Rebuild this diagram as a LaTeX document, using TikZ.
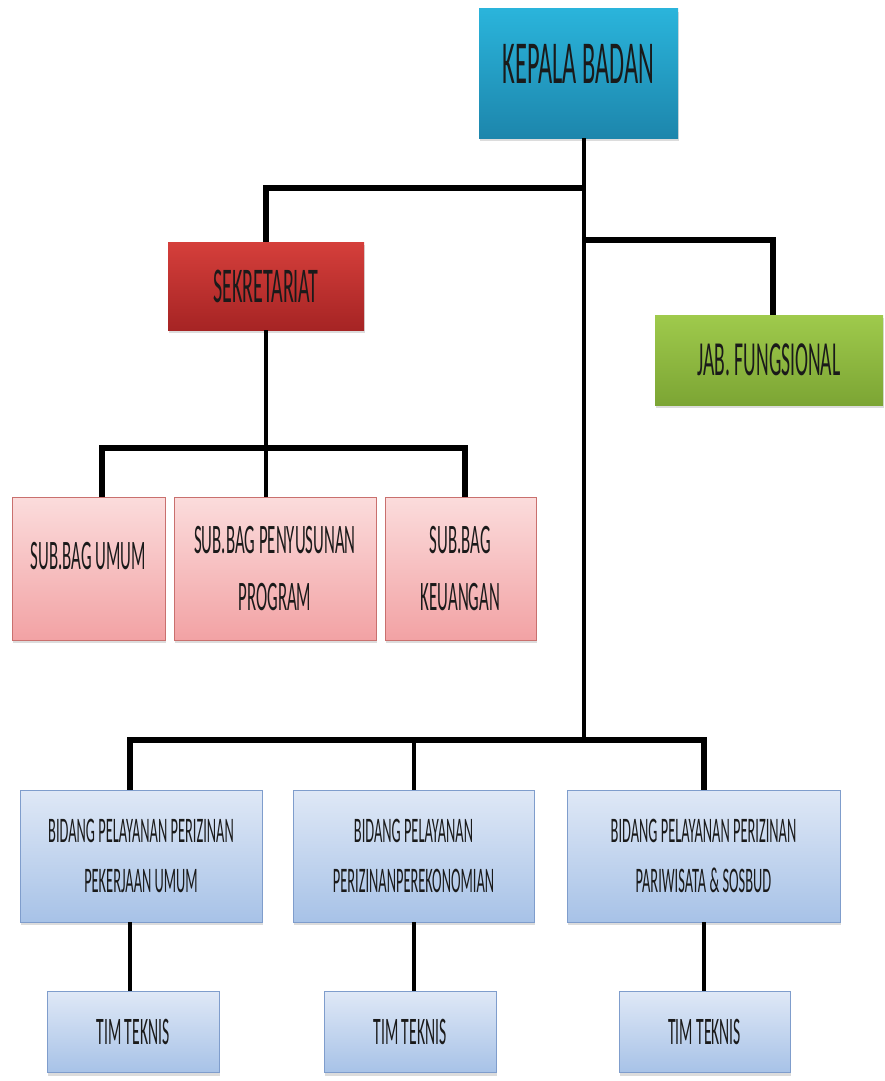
\documentclass[tikz,border=0pt]{standalone}
\usepackage{fontspec}
\setmainfont[FakeStretch=0.4]{Carlito}
\usetikzlibrary{shadows}

\definecolor{kepalaTop}{HTML}{2AB4DB}
\definecolor{kepalaBot}{HTML}{1D86AC}
\definecolor{sekreTop}{HTML}{D53F3B}
\definecolor{sekreBot}{HTML}{A62424}
\definecolor{jabTop}{HTML}{9FCA4C}
\definecolor{jabBot}{HTML}{7CA534}
\definecolor{subTop}{HTML}{FBDCDC}
\definecolor{subBot}{HTML}{F2A2A4}
\definecolor{subLine}{HTML}{C9706E}
\definecolor{bidTop}{HTML}{DFE8F6}
\definecolor{bidBot}{HTML}{A7C2E7}
\definecolor{bidLine}{HTML}{7F9DCC}
\definecolor{txt}{HTML}{1A1A1A}

\begin{document}
\begin{tikzpicture}[x=1pt,y=-1pt]
\tikzstyle{box} = [inner sep=0pt, align=center, text=txt,
  drop shadow={shadow xshift=1pt, shadow yshift=-3pt, fill=gray!55}]
\tikzstyle{conn} = [line width=4pt]
\tikzstyle{bar} = [line width=6pt]

\useasboundingbox (0,0) rectangle (884,1081);

% nodes
\node (kepala) [box, top color=kepalaTop, bottom color=kepalaBot,
  minimum width=199pt, minimum height=129pt,
  font=\fontsize{61}{70}\selectfont] at (578.5,73.5) {\raisebox{20pt}{KEPALA BADAN}};
\node (sekre) [box, top color=sekreTop, bottom color=sekreBot,
  minimum width=196pt, minimum height=88pt,
  font=\fontsize{50}{58}\selectfont] at (266,286) {SEKRETARIAT};
\node (jab) [box, top color=jabTop, bottom color=jabBot,
  minimum width=228pt, minimum height=90pt,
  font=\fontsize{49}{58}\selectfont] at (769,360) {JAB. FUNGSIONAL};

\node (umum) [box, draw=subLine, top color=subTop, bottom color=subBot,
  minimum width=153pt, minimum height=143pt,
  font=\fontsize{42}{57}\selectfont] at (88.5,568.5) {\raisebox{26pt}{SUB.BAG UMUM}};
\node (peny) [box, draw=subLine, top color=subTop, bottom color=subBot,
  minimum width=202pt, minimum height=143pt,
  font=\fontsize{42}{57}\selectfont] at (275,568.5) {SUB.BAG PENYUSUNAN\\PROGRAM};
\node (keu) [box, draw=subLine, top color=subTop, bottom color=subBot,
  minimum width=151pt, minimum height=143pt,
  font=\fontsize{42}{57}\selectfont] at (460.5,568.5) {SUB.BAG\\KEUANGAN};

\node (bid1) [box, draw=bidLine, top color=bidTop, bottom color=bidBot,
  minimum width=242pt, minimum height=132pt,
  font=\fontsize{36}{50}\selectfont] at (141,856) {BIDANG PELAYANAN PERIZINAN\\PEKERJAAN UMUM};
\node (bid2) [box, draw=bidLine, top color=bidTop, bottom color=bidBot,
  minimum width=241pt, minimum height=132pt,
  font=\fontsize{36}{50}\selectfont] at (413.5,856) {BIDANG PELAYANAN\\PERIZINANPEREKONOMIAN};
\node (bid3) [box, draw=bidLine, top color=bidTop, bottom color=bidBot,
  minimum width=273pt, minimum height=132pt,
  font=\fontsize{36}{50}\selectfont] at (703.5,856) {BIDANG PELAYANAN PERIZINAN\\PARIWISATA \& SOSBUD};

\node (tim1) [box, draw=bidLine, top color=bidTop, bottom color=bidBot,
  minimum width=172pt, minimum height=81pt,
  font=\fontsize{39}{46}\selectfont] at (133,1032) {TIM TEKNIS};
\node (tim2) [box, draw=bidLine, top color=bidTop, bottom color=bidBot,
  minimum width=172pt, minimum height=81pt,
  font=\fontsize{39}{46}\selectfont] at (410,1032) {TIM TEKNIS};
\node (tim3) [box, draw=bidLine, top color=bidTop, bottom color=bidBot,
  minimum width=171pt, minimum height=81pt,
  font=\fontsize{39}{46}\selectfont] at (704.5,1032) {TIM TEKNIS};

% junctions
\coordinate (j1) at (584,188);
\coordinate (j2) at (584,240);
\coordinate (j3) at (584,740);
\coordinate (s1) at (268,448);

% lines
\draw [conn] (kepala.south -| j1) -- (j3);
\draw [bar] (j1) -| (sekre.north);
\draw [bar] (j2) -| ([xshift=4pt]jab.north);
\draw [conn] (sekre.south) -- (sekre.south |- peny.north);
\draw [bar] ([xshift=13pt]umum.north) |- (s1) -| ([xshift=4pt]keu.north);
\draw [bar] ([xshift=-11pt]bid1.north) |- (j3) -| (bid3.north);
\draw [conn] (bid2.north) -- (bid2.north |- j3);
\draw [conn] ([xshift=-11pt]bid1.south) -- ([xshift=-11pt]bid1.south |- tim1.north);
\draw [conn] (bid2.south) -- (bid2.south |- tim2.north);
\draw [conn] (bid3.south) -- (bid3.south |- tim3.north);

\end{tikzpicture}
\end{document}
